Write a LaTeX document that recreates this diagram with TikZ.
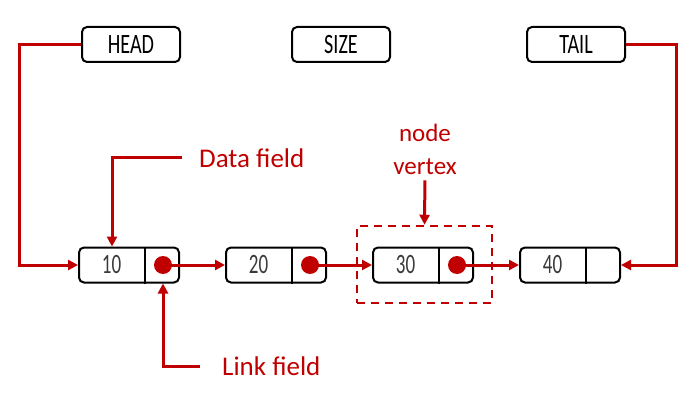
\documentclass[tikz,border=0pt]{standalone}
\usepackage{fontspec}
\setmainfont{Carlito}
\newfontfamily\boxfont[FakeStretch=0.72]{Carlito}
\newfontfamily\numfont[FakeStretch=0.68]{Carlito}
\usetikzlibrary{arrows.meta,calc}
\definecolor{lred}{HTML}{C00000}
\definecolor{numgray}{HTML}{3A3A3A}
\tikzset{
  hdr/.style={draw=black, line width=2pt, rounded corners=5pt, minimum width=98pt, minimum height=35pt, inner sep=0pt, font=\boxfont\fontsize{28}{30}\selectfont},
  listnode/.style={draw=black, line width=2pt, rounded corners=5pt, minimum width=100pt, minimum height=35pt, inner sep=0pt},
  divider/.style={draw=black, line width=2pt},
  num/.style={inner sep=0pt, text=numgray, font=\numfont\fontsize{28}{30}\selectfont},
  dot/.style={circle, fill=lred, minimum size=18pt, inner sep=0pt},
  link/.style={draw=lred, line width=3pt, -{Triangle[length=10pt,width=10pt]}},
  redlabel/.style={inner sep=0pt, text=lred, anchor=west, font=\fontsize{27}{33}\selectfont},
  dbox/.style={draw=lred, line width=2.5pt, dash pattern=on 8pt off 6pt, minimum width=135pt, minimum height=77pt, inner sep=0pt}
}
\begin{document}
\begin{tikzpicture}[x=1pt,y=-1pt]
\useasboundingbox (0,0) rectangle (696,401);
% header boxes
\node[hdr] (head) at (131,44.5) {HEAD};
\node[hdr] (size) at (341,44.5) {SIZE};
\node[hdr] (tail) at (576,44.5) {TAIL};
% dashed box
\node[dbox] (vbox) at (424.5,264.5) {};
% list nodes
\foreach \i/\cx/\v in {1/129/10,2/276/20,3/423/30,4/570/40}{
  \node[listnode] (n\i) at (\cx,265) {};
  \draw[divider] ($(n\i.north west)+(67,0)$) -- ($(n\i.south west)+(67,0)$);
  \node[num] (d\i) at ($(n\i.west)+(33.5,0)$) {\v};
}
\node[dot] (p1) at ($(n1.east)+(-17,0)$) {};
\node[dot] (p2) at ($(n2.east)+(-17,0)$) {};
\node[dot] (p3) at ($(n3.east)+(-17,0)$) {};
% links
\draw[link] (p1.center) -- (n2.west);
\draw[link] (p2.center) -- (n3.west);
\draw[link] (p3.center) -- (n4.west);
% head / tail pointers
\draw[link] (head.west) -- ++(-62,0) |- (n1.west);
\draw[link] (tail.east) -- ++(50,0) |- (n4.east);
% labels
\node[redlabel] (df) at (199,158) {Data field};
\node[redlabel] (lf) at (222,366) {Link field};
\node[inner sep=0pt, text=lred, align=center, font=\fontsize{25}{33}\selectfont] (nv) at (425,149) {node\\vertex};
\draw[link] ([xshift=-17pt]df.west) -| ([xshift=-17pt]n1.north);
\draw[link] ([xshift=-22pt]lf.west) -| (p1 |- n1.south);
\draw[link, shorten <=6pt] (nv.south) -- (vbox.north);
\end{tikzpicture}
\end{document}
